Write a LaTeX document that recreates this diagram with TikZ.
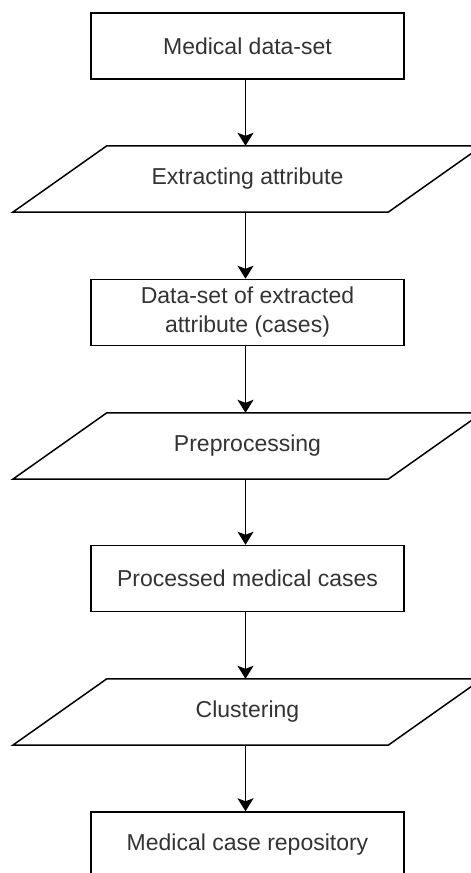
\documentclass[tikz,border=0pt]{standalone}
\usepackage{fontspec}
\setmainfont{Liberation Sans}
\usetikzlibrary{arrows.meta}
\definecolor{txt}{HTML}{333333}
\tikzset{
  ln/.style={line width=1.5pt, draw=black},
  boxnode/.style={ln, rectangle, minimum width=313pt, minimum height=66pt, inner sep=0pt,
    text=txt, align=center, font=\fontsize{23}{29}\selectfont},
  paranode/.style={rectangle, minimum width=469pt, minimum height=66pt, inner sep=0pt,
    text=txt, align=center, font=\fontsize{23}{29}\selectfont},
  arr/.style={ln, -{Stealth[width=16pt,length=13pt,inset=3pt]}},
}
\newcommand{\myparashape}[1]{\draw[ln] (#1.south west) -- ([xshift=-94pt]#1.south east) -- (#1.north east) -- ([xshift=94pt]#1.north west) -- cycle;}
\begin{document}
\begin{tikzpicture}[x=1pt,y=1pt]
\useasboundingbox (0,0) rectangle (471,-873);
\clip (0,0) rectangle (471,-873);
\node[boxnode] (b1) at (247.5,-46) {Medical data-set};
\node[paranode] (p1) at (247.5,-179) {Extracting attribute};
\myparashape{p1}
\node[boxnode] (b2) at (247.5,-312.5) {Data-set of extracted\\attribute (cases)};
\node[paranode] (p2) at (247.5,-446) {Preprocessing};
\myparashape{p2}
\node[boxnode] (b3) at (247.5,-578.5) {Processed medical cases};
\node[paranode] (p3) at (247.5,-712) {Clustering};
\myparashape{p3}
\node[boxnode] (b4) at (247.5,-845) {Medical case repository};
\draw[arr] ([xshift=-2pt]b1.south) -- ([xshift=-2pt]p1.north);
\draw[arr] ([xshift=-2pt]p1.south) -- ([xshift=-2pt]b2.north);
\draw[arr] ([xshift=-2pt]b2.south) -- ([xshift=-2pt]p2.north);
\draw[arr] ([xshift=-2pt]p2.south) -- ([xshift=-2pt]b3.north);
\draw[arr] ([xshift=-2pt]b3.south) -- ([xshift=-2pt]p3.north);
\draw[arr] ([xshift=-2pt]p3.south) -- ([xshift=-2pt]b4.north);
\end{tikzpicture}
\end{document}
